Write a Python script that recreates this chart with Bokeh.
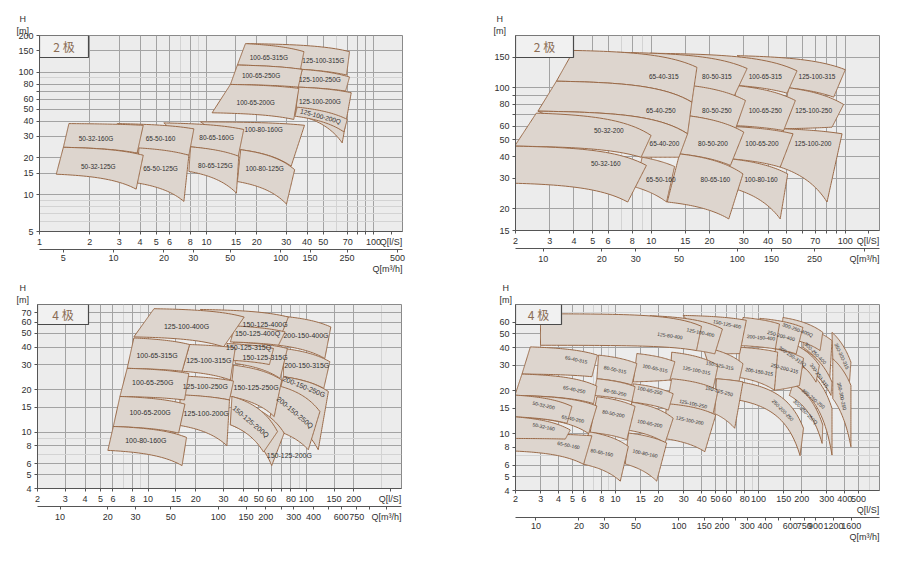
import numpy as np
from bokeh.plotting import figure
from bokeh.layouts import column, row
from bokeh.models import (LogAxis, Range1d, LogScale, FixedTicker, Label, Title,
                          ColumnDataSource)
from bokeh.core.properties import value
from bokeh.embed import file_html
from bokeh.resources import INLINE

FONT = "Liberation Sans"
CJK = "Noto Sans CJK SC"

# ---------------- Panel 1 : 2 poles (G series) ----------------
# corners per tile: top-left, top-right, bottom-right, bottom-left  (Q in l/s, H in m)
P1_NAMES = ["125-100-315G", "125-100-250G", "125-100-200G", "125-100-200Q",
            "100-65-315G", "100-65-250G", "100-65-200G", "100-80-160G", "100-80-125G",
            "80-65-160G", "80-65-125G", "65-50-160", "65-50-125G", "50-32-160G", "50-32-125G"]
P1_Q = [[17.5, 71.8, 68.9, 37.4], [37.4, 71.8, 68.0, 34.9], [35.4, 73.5, 64.9, 34.1],
        [34.9, 69.6, 66.4, 33.8], [17.1, 38.3, 36.5, 15.3], [15.3, 37.4, 35.4, 13.9],
        [13.9, 35.7, 33.3, 10.8], [9.2, 38.6, 32.1, 16.0], [16.0, 33.7, 30.1, 15.3],
        [5.55, 16.7, 15.4, 8.02], [8.02, 15.6, 15.1, 7.84], [2.92, 8.40, 7.84, 3.84],
        [3.94, 7.84, 7.32, 3.79], [1.50, 4.18, 3.84, 1.39], [1.39, 4.18, 3.79, 1.26]]
P1_H = [[171.6, 147.6, 95.0, 105.7], [105.7, 91.5, 70.3, 75.7], [75.7, 68.1, 26.5, 45.2],
        [51.9, 41.2, 32.6, 43.8], [171.6, 147.6, 105.7, 114.7], [114.7, 105.7, 75.7, 79.6],
        [79.6, 73.9, 41.2, 46.7], [39.4, 36.9, 17.1, 23.3], [23.3, 16.0, 8.38, 12.8],
        [38.6, 34.1, 19.9, 24.6], [24.6, 20.6, 10.3, 15.5], [38.1, 34.5, 21.0, 21.9],
        [24.1, 21.0, 8.81, 12.5], [38.1, 36.9, 21.9, 24.4], [24.4, 21.0, 11.1, 14.7]]
P1_LQ = [50.0, 47.7, 47.7, 48.2, 23.6, 21.2, 19.7, 22.0, 22.3, 11.5, 11.3, 5.30, 5.30, 2.18, 2.25]
P1_LH = [126, 87.0, 57.4, 43.8, 131.8, 95.0, 56.7, 34.3, 16.5, 29.1, 17.4, 28.8, 16.3, 28.8, 16.9]
P1_ANG = [0, 0, 0, -15, 0, 0, 0, 0, 0, 0, 0, 0, 0, 0, 0]

# ---------------- Panel 2 : 2 poles ----------------
P2_NAMES = ["125-100-315", "125-100-250", "125-100-200", "100-65-315", "100-65-250",
            "100-65-200", "100-80-160", "80-50-315", "80-50-250", "80-50-200", "80-65-160",
            "65-40-315", "65-40-250", "65-40-200", "65-50-160", "50-32-200", "50-32-160"]
P2_Q = [[27.7, 100, 87.1, 51.1], [51.1, 98.0, 85.4, 46.2], [48.1, 96.2, 80.5, 46.2],
        [9.9, 56.4, 50.1, 27.7], [27.2, 55.3, 48.1, 26.6], [26.6, 53.8, 46.2, 25.4],
        [25.4, 50.5, 46.2, 25.1], [6.67, 31.2, 26.6, 16.2], [15.9, 30.6, 27.2, 15.0],
        [15.0, 30.0, 25.6, 14.0], [14.0, 29.7, 25.1, 12.1], [3.99, 17.2, 16.2, 3.25],
        [3.25, 16.2, 15.4, 2.61], [2.61, 15.4, 13.9, 8.98], [8.98, 13.2, 12.0, 8.30],
        [2.56, 9.99, 8.87, 1.98], [1.98, 9.45, 7.57, 1.98]]
P2_H = [[153, 127, 88.2, 99.8], [99.8, 80.0, 59.2, 57.9], [57.9, 54.2, 21.9, 34.8],
        [158, 125, 93.0, 103], [103, 84.3, 56.6, 60.5], [59.7, 54.2, 34.8, 38.9],
        [38.9, 31.8, 17.5, 26.7], [160, 129, 88.2, 101], [103, 84.3, 57.9, 69.2],
        [69.2, 55.4, 35.6, 41.5], [41.5, 31.8, 17.5, 21.9], [164, 131, 82.5, 109],
        [109, 82.5, 54.2, 73.2], [73.2, 54.2, 39.7, 39.7], [39.7, 35.1, 21.9, 26.7],
        [71.3, 53.0, 39.7, 46.0], [46.0, 35.6, 21.9, 28.1]]
P2_LQ = [71.5, 68.7, 68.1, 38.7, 38.7, 37.2, 36.8, 21.8, 21.8, 20.8, 21.4, 11.6, 11.2, 11.7, 11.2, 6.05, 5.83]
P2_LH = [116.6, 74.3, 47.4, 116.6, 74.3, 47.4, 29.4, 116.6, 74.3, 47.4, 29.4, 116.6, 74.3, 47.4, 29.4, 56.5, 36.6]
P2_ANG = [0] * 17

# ---------------- Panel 3 : 4 poles (G series) ----------------
P3_NAMES = ["200-150-400G", "200-150-315G", "200-150-250G", "200-150-250Q",
            "150-125-400G", "150-125-315G", "150-125-315Q", "150-125-400Q", "150-125-250G",
            "150-125-200G", "150-125-200Q", "125-100-400G", "125-100-315G", "125-100-250G",
            "125-100-200G", "100-65-315G", "100-65-250G", "100-65-200G", "100-80-160G"]
P3_Q = [[68.4, 143, 131, 66.7], [71.7, 141, 129, 71.7], [71.7, 138, 119, 62.1],
        [66.7, 122, 103, 56.4], [21.4, 77.1, 66.7, 35.6], [34.7, 76.0, 68.4, 35.6],
        [31.5, 62.1, 58.5, 33.1], [35.6, 73.5, 66.7, 33.1], [34.7, 70.0, 62.7, 33.1],
        [34.7, 72.5, 60.5, 33.1], [33.9, 65.8, 53.7, 33.1], [10.9, 40.5, 30.0, 8.13],
        [18.3, 35.6, 33.1, 16.4], [17.2, 34.7, 32.7, 16.0], [16.0, 32.7, 31.5, 15.6],
        [8.13, 18.3, 16.4, 7.38], [7.38, 18.1, 17.0, 6.64], [6.64, 17.1, 15.6, 6.03],
        [6.03, 17.5, 16.4, 5.57]]
P3_H = [[66.3, 55.5, 33.2, 41.2], [39.1, 31.5, 20.4, 24.7], [24.7, 19.4, 7.52, 13.3],
        [21.3, 14.0, 7.52, 10.7], [73.8, 65.2, 43.5, 44.6], [43.5, 39.1, 24.0, 30.6],
        [42.4, 39.1, 30.1, 32.3], [56.4, 51.2, 41.2, 43.5], [29.8, 23.4, 12.9, 17.9],
        [16.5, 9.86, 5.81, 11.3], [17.9, 10.1, 7.24, 11.3], [74.7, 65.2, 40.1, 47.2],
        [41.7, 39.5, 23.4, 27.0], [24.9, 23.0, 16.9, 18.3], [18.4, 16.9, 8.03, 11.2],
        [46.4, 41.7, 27.0, 28.3], [28.3, 26.0, 16.9, 17.9], [17.9, 15.8, 9.86, 10.98],
        [10.98, 9.19, 5.81, 7.44]]
P3_LQ = [99.6, 100.7, 96.8, 84.9, 54.9, 54.9, 43.2, 49.2, 48.2, 78.2, 44.6, 17.5, 24.2, 23.0,
         23.3, 11.4, 10.7, 10.3, 9.68]
P3_LH = [48.5, 29.5, 21.0, 13.8, 57.6, 33.9, 39.9, 49.8, 20.7, 6.83, 11.9, 56.1, 32.2, 20.9,
         13.6, 35.1, 22.5, 13.8, 8.75]
P3_ANG = [0, 0, -22, -40, 0, 0, 0, 0, 0, 0, -40, 0, 0, 0, 0, 0, 0, 0, 0]

# ---------------- Panel 4 : 4 poles ----------------
P4_NAMES = ["250-200-250", "350-300-315", "350-300-250", "300-250-400", "300-250-315",
            "300-250-250", "300-250-250Q", "300-250-400Q", "300-250-315Q", "250-200-400",
            "250-200-315", "200-150-400", "200-150-315", "150-125-400", "150-125-315",
            "150-125-250", "125-100-400", "125-100-315", "125-100-250", "125-100-200",
            "125-80-400", "100-65-315", "100-65-250", "100-65-200", "100-80-160",
            "80-50-315", "80-50-250", "80-50-200", "80-65-160", "65-40-315", "65-40-250",
            "65-40-200", "65-50-160", "50-32-200", "50-32-160"]
P4_Q = [[73.8, 206, 195, 73.8], [326, 442, 430, 330], [330, 442, 442, 330],
        [209, 326, 313, 204], [204, 326, 321, 198], [204, 326, 326, 174],
        [174, 281, 278, 164], [148, 281, 269, 144], [144, 266, 252, 144],
        [102, 204, 183, 131], [131, 206, 193, 129], [77.8, 140, 131, 73.8],
        [73.8, 136, 129, 71.8], [29.7, 82.1, 73.8, 49.4], [40.9, 77.8, 73.0, 48.1],
        [50.7, 77.8, 68.1, 49.4], [17.4, 55.9, 49.4, 36.8], [24.7, 52.1, 48.1, 24.0],
        [24.7, 52.1, 48.1, 22.8], [22.8, 50.2, 42.1, 21.6], [2.99, 39.9, 36.8, 2.99],
        [14.1, 26.0, 24.0, 13.3], [13.3, 25.3, 23.4, 13.0], [13.0, 25.3, 22.2, 12.0],
        [12.3, 22.8, 19.4, 11.7], [7.61, 14.1, 13.0, 7.41], [7.41, 13.7, 13.0, 7.03],
        [7.41, 13.7, 12.0, 6.65], [6.49, 12.3, 10.8, 5.98], [2.54, 7.48, 6.84, 2.22],
        [2.22, 7.41, 7.03, 1.98], [1.98, 7.41, 6.49, 1.98], [1.98, 6.84, 5.98, 1.98],
        [1.98, 4.96, 4.58, 1.98], [1.98, 4.83, 4.46, 1.98]]
P4_H = [[23.0, 10.9, 7.01, 17.1], [51.1, 31.6, 21.7, 33.4], [33.4, 21.7, 8.09, 17.6],
        [55.3, 44.7, 22.9, 40.2], [39.1, 22.9, 18.5, 30.0], [29.2, 15.0, 7.08, 22.3],
        [22.3, 11.5, 8.54, 18.5], [64.9, 51.1, 38.1, 47.2], [45.5, 30.0, 22.9, 36.1],
        [64.0, 55.3, 36.1, 39.1], [39.1, 33.7, 21.7, 20.1], [64.9, 58.4, 39.1, 41.3],
        [40.2, 37.1, 20.1, 24.8], [67.1, 62.0, 36.3, 36.1], [40.2, 30.8, 23.2, 24.2],
        [24.2, 23.0, 10.9, 13.8], [66.8, 53.9, 36.1, 38.1], [37.1, 30.0, 20.6, 23.6],
        [24.2, 20.1, 13.8, 15.4], [16.2, 13.5, 7.47, 9.25], [68.9, 56.3, 38.1, 41.5],
        [36.3, 31.8, 23.7, 23.0], [22.3, 19.0, 14.6, 16.6], [16.6, 12.8, 8.59, 10.6],
        [10.1, 8.59, 4.65, 6.13], [35.4, 30.9, 21.9, 24.2], [24.2, 21.3, 16.7, 18.5],
        [18.1, 15.5, 9.06, 10.2], [10.3, 8.13, 4.65, 6.10], [40.4, 35.4, 25.0, 26.1],
        [26.1, 21.5, 16.2, 18.5], [18.5, 15.6, 10.0, 13.1], [10.0, 9.65, 6.10, 7.55],
        [18.6, 15.5, 11.8, 13.1], [13.1, 10.6, 9.16, 9.25]]
P4_LQ = [148, 383, 383, 250, 266, 242, 213, 188, 173, 144, 152, 104, 101, 60.3, 53.6, 53.0,
         39.3, 36.8, 34.9, 33.1, 24.0, 18.9, 17.4, 17.4, 16.1, 9.94, 9.94, 9.68, 8.03, 5.32,
         5.15, 5.04, 4.70, 3.15, 3.15]
P4_LH = [14.6, 34.8, 18.3, 36.5, 25.5, 17.6, 14.2, 53.3, 34.8, 48.5, 28.7, 47.2, 27.2, 58.4,
         30.0, 19.9, 51.1, 27.8, 16.2, 12.4, 48.5, 28.7, 20.1, 11.8, 7.28, 28.1, 19.5, 13.8,
         7.39, 33.0, 20.4, 12.7, 8.31, 15.8, 11.2]
P4_ANG = [-45, -65, -78, -45, -55, -40, -45, -20, -35, -15, -15, -5, -10, -12, -12, -15,
          -12, -12, -12, -12, -8, -12, -12, -12, -12, -12, -12, -12, -12, -12, -12, -12,
          -12, -12, -12]

# ---------------- Axes ----------------
P1_XTICKS = [1, 2, 3, 4, 5, 6, 8, 10, 15, 20, 30, 40, 50, 70, 80, 90, 100]
P1_XBLANK = [80, 90]
P1_YTICKS = [5, 10, 15, 20, 30, 40, 50, 60, 70, 80, 100, 150, 200]
P1_YBLANK = [70]
P1_M3 = [5, 10, 20, 30, 50, 100, 150, 250, 500]
P1_M3BLANK = []

P2_XTICKS = [2, 3, 4, 5, 6, 8, 10, 15, 20, 30, 40, 50, 60, 70, 80, 90, 100]
P2_XBLANK = [60, 80, 90]
P2_YTICKS = [15, 20, 30, 40, 50, 60, 70, 80, 90, 100, 150]
P2_YBLANK = [70, 90]
P2_M3 = [10, 20, 30, 50, 100, 150, 250]
P2_M3BLANK = []

P3_XTICKS = [2, 3, 4, 5, 6, 8, 10, 15, 20, 30, 40, 50, 60, 70, 80, 100, 150, 200]
P3_XBLANK = [70]
P3_YTICKS = [4, 5, 6, 8, 10, 15, 20, 30, 40, 50, 60, 70]
P3_YBLANK = []
P3_M3 = [10, 20, 30, 50, 100, 150, 200, 250, 300, 400, 500, 600, 750, 900]
P3_M3BLANK = [250, 500, 900]

P4_XTICKS = [2, 3, 4, 5, 6, 8, 10, 15, 20, 30, 40, 50, 60, 70, 80, 100, 150, 200, 300, 400, 500]
P4_XBLANK = [70]
P4_YTICKS = [4, 5, 6, 8, 10, 15, 20, 30, 40, 50, 60]
P4_YBLANK = []
P4_M3 = [10, 20, 30, 50, 100, 150, 200, 250, 300, 400, 500, 600, 750, 900, 1200, 1600]
P4_M3BLANK = [250, 500]

M3_PER_LS = 3.6
Q_LS = "Q[l/S]"
Q_M3 = "Q[m³/h]"
TEXT_HALF_W = {Q_LS: 11.5, Q_M3: 15.0}   # half widths in px at 9px

TILE_FILL = "#ddd5ce"
TILE_LINE = "#9a6a48"
BG = "#ececec"
GRID_MAJOR = "#a3a3a3"
GRID_MINOR = "#d3d3d3"
TEXT = "#303030"
POLE_TEXT = "#8a6c55"


def minor_between(ticks, lo, hi):
    vals = []
    decade = 10.0 ** np.floor(np.log10(lo))
    while decade < hi * 10:
        for m in range(1, 10):
            v = m * decade
            if lo < v < hi and all(abs(v - t) > 1e-9 for t in ticks):
                vals.append(float(v))
        decade *= 10
    return vals


def tile_outline(q, h, n=30):
    qTL, qTR, qBR, qBL = q
    hTL, hTR, hBR, hBL = h

    def pump(q1, h1, q2, h2):
        qs = np.geomspace(q1, q2, n)
        b = (h1 - h2) / (q2 ** 2 - q1 ** 2)
        return qs, h1 - b * (qs ** 2 - q1 ** 2)

    def straight(q1, h1, q2, h2):
        t = np.linspace(0, 1, n)
        return q1 * (q2 / q1) ** t, h1 * (h2 / h1) ** t

    tq, th = pump(qTL, hTL, qTR, hTR)
    rq, rh = straight(qTR, hTR, qBR, hBR)
    bq, bh = pump(qBL, hBL, qBR, hBR)
    lq, lh = straight(qBL, hBL, qTL, hTL)
    xs = np.concatenate([tq, rq, bq[::-1], lq])
    ys = np.concatenate([th, rh, bh[::-1], lh])
    return list(xs), list(ys)


def style_axis(ax, ticks, blanks, extra=None):
    ov = {float(t): ("" if t in blanks else str(t)) for t in ticks}
    tk = [float(t) for t in ticks]
    if extra is not None:
        pos, txt = extra
        tk.append(pos)
        ov[pos] = txt
    ax.ticker = FixedTicker(ticks=tk, minor_ticks=[])
    ax.major_label_overrides = ov
    ax.major_tick_out = 3
    ax.major_tick_in = 0
    ax.minor_tick_line_color = None
    ax.axis_line_color = "#555555"
    ax.major_tick_line_color = "#555555"
    ax.major_label_text_font = FONT
    ax.major_label_text_font_size = "9px"
    ax.major_label_text_color = TEXT
    ax.major_label_standoff = 2


def text_axis(pos, txt, range_name="default"):
    """An axis showing only one text, with no line and no tick mark."""
    ax = LogAxis(x_range_name=range_name)
    ax.ticker = FixedTicker(ticks=[pos], minor_ticks=[])
    ax.major_label_overrides = {pos: txt}
    ax.axis_line_color = None
    ax.major_tick_line_color = None
    ax.minor_tick_line_color = None
    ax.major_tick_out = 0
    ax.major_tick_in = 0
    ax.major_label_standoff = 0
    ax.major_label_text_font = FONT
    ax.major_label_text_font_size = "9px"
    ax.major_label_text_color = TEXT
    return ax


def make_panel(cfg):
    xmin, xmax = cfg["xr"]
    ymin, ymax = cfg["yr"]
    fw, fh = cfg["frame"]
    bl, br, bt, bb = cfg["borders"]
    p = figure(x_axis_type="log", y_axis_type="log",
               x_range=Range1d(xmin, xmax), y_range=Range1d(ymin, ymax),
               frame_width=fw, frame_height=fh,
               min_border_left=bl, min_border_right=br, min_border_top=bt, min_border_bottom=bb,
               output_backend="svg", toolbar_location=None,
               background_fill_color=BG, border_fill_color="white",
               outline_line_color="#8a8a8a", outline_line_width=1)
    ppdx = fw / np.log10(xmax / xmin)
    ppdy = fh / np.log10(ymax / ymin)

    def xoff(px):  # px right of left frame edge
        return xmin * 10 ** (px / ppdx)

    def yoff(px):  # px above bottom frame edge
        return ymin * 10 ** (px / ppdy)

    def right_text_pos(txt, scale=1.0):  # centre of a text ending at the right frame edge
        return float(xmax * scale / 10 ** (TEXT_HALF_W[txt] / ppdx))

    # grids
    p.xgrid.ticker = FixedTicker(ticks=cfg["xticks"],
                                 minor_ticks=minor_between(cfg["xticks"], xmin, xmax))
    p.ygrid.ticker = FixedTicker(ticks=cfg["yticks"],
                                 minor_ticks=minor_between(cfg["yticks"], ymin, ymax))
    for g in (p.xgrid, p.ygrid):
        g.grid_line_color = GRID_MAJOR
        g.grid_line_width = 1
        g.minor_grid_line_color = GRID_MINOR
        g.minor_grid_line_width = 1

    # main axes
    inline_ls = (right_text_pos(Q_LS), Q_LS) if cfg["ls_inline"] else None
    style_axis(p.xaxis[0], cfg["xticks"], cfg["xblank"], inline_ls)
    style_axis(p.yaxis[0], cfg["yticks"], cfg["yblank"])
    p.yaxis[0].major_label_standoff = 3
    if not cfg["ls_inline"]:
        p.add_layout(text_axis(right_text_pos(Q_LS), Q_LS), "below")

    # second (m3/h) axis
    p.extra_x_ranges = {"m3": Range1d(xmin * M3_PER_LS, xmax * M3_PER_LS)}
    p.extra_x_scales = {"m3": LogScale()}
    ax2 = LogAxis(x_range_name="m3")
    inline_m3 = (right_text_pos(Q_M3, M3_PER_LS), Q_M3) if cfg["m3_inline"] else None
    style_axis(ax2, cfg["m3"], cfg["m3blank"], inline_m3)
    p.add_layout(ax2, "below")
    if not cfg["m3_inline"]:
        p.add_layout(text_axis(right_text_pos(Q_M3), Q_M3), "below")

    # H [m] above the y axis
    for txt in ("[m]", "H"):
        p.add_layout(Title(text=txt, align="left", offset=cfg["h_offset"] + (3 if txt == "H" else 0),
                           text_font=FONT, text_font_size="9px", text_font_style="normal",
                           text_color=TEXT, standoff=0), "above")

    # tiles
    xs, ys = [], []
    for q, h in zip(cfg["Q"], cfg["H"]):
        a, b = tile_outline(q, h)
        xs.append(a)
        ys.append(b)
    p.patches(xs=xs, ys=ys, fill_color=TILE_FILL, fill_alpha=1.0,
              line_color=TILE_LINE, line_width=1)

    src = ColumnDataSource(dict(x=cfg["LQ"], y=cfg["LH"], t=cfg["names"], a=cfg["ang"]))
    p.text(x="x", y="y", text="t", angle="a", angle_units="deg", source=src,
           text_font=value(FONT), text_font_size=cfg["label_size"], text_color=TEXT,
           text_align="center", text_baseline="middle")

    # pole box
    bw, bh = cfg["box"]
    p.quad(left=[xmin], right=[xoff(bw)], top=[ymax], bottom=[yoff(fh - bh)],
           fill_color="#f1f1f1", line_color="#4a4a4a", line_width=1.2)
    p.add_layout(Label(x=xoff(bw / 2), y=yoff(fh - bh / 2), text=cfg["pole"],
                       text_font=CJK, text_font_size="12px", text_color=POLE_TEXT,
                       text_align="center", text_baseline="middle"))
    return p


cfg1 = dict(xr=(1, 149), yr=(5, 200), frame=(363, 196), borders=(39, 48, 34, 50),
            xticks=P1_XTICKS, xblank=P1_XBLANK, yticks=P1_YTICKS, yblank=P1_YBLANK,
            m3=P1_M3, m3blank=P1_M3BLANK, Q=P1_Q, H=P1_H, names=P1_NAMES, LQ=P1_LQ,
            LH=P1_LH, ang=P1_ANG, label_size="6.5px", box=(49, 22), pole="2 极",
            h_offset=-23, ls_inline=True, m3_inline=False)
cfg2 = dict(xr=(2, 150), yr=(15, 200), frame=(364, 195), borders=(65, 13, 35, 50),
            xticks=P2_XTICKS, xblank=P2_XBLANK, yticks=P2_YTICKS, yblank=P2_YBLANK,
            m3=P2_M3, m3blank=P2_M3BLANK, Q=P2_Q, H=P2_H, names=P2_NAMES, LQ=P2_LQ,
            LH=P2_LH, ang=P2_ANG, label_size="6.5px", box=(58, 22), pole="2 极",
            h_offset=-22, ls_inline=True, m3_inline=True)
cfg3 = dict(xr=(2, 400), yr=(4, 80), frame=(364, 184), borders=(37, 49, 23, 77),
            xticks=P3_XTICKS, xblank=P3_XBLANK, yticks=P3_YTICKS, yblank=P3_YBLANK,
            m3=P3_M3, m3blank=P3_M3BLANK, Q=P3_Q, H=P3_H, names=P3_NAMES, LQ=P3_LQ,
            LH=P3_LH, ang=P3_ANG, label_size="7px", box=(51, 20), pole="4 极",
            h_offset=-21, ls_inline=True, m3_inline=True)
cfg4 = dict(xr=(2, 700), yr=(4, 80), frame=(364, 186), borders=(65, 13, 23, 75),
            xticks=P4_XTICKS, xblank=P4_XBLANK, yticks=P4_YTICKS, yblank=P4_YBLANK,
            m3=P4_M3, m3blank=P4_M3BLANK, Q=P4_Q, H=P4_H, names=P4_NAMES, LQ=P4_LQ,
            LH=P4_LH, ang=P4_ANG, label_size="5px", box=(46, 20), pole="4 极",
            h_offset=-16, ls_inline=False, m3_inline=False)

f1 = make_panel(cfg1)
f2 = make_panel(cfg2)
f3 = make_panel(cfg3)
f4 = make_panel(cfg4)

layout = column(row(f1, f2), row(f3, f4))
open("out.html", "w").write(file_html(layout, INLINE))
